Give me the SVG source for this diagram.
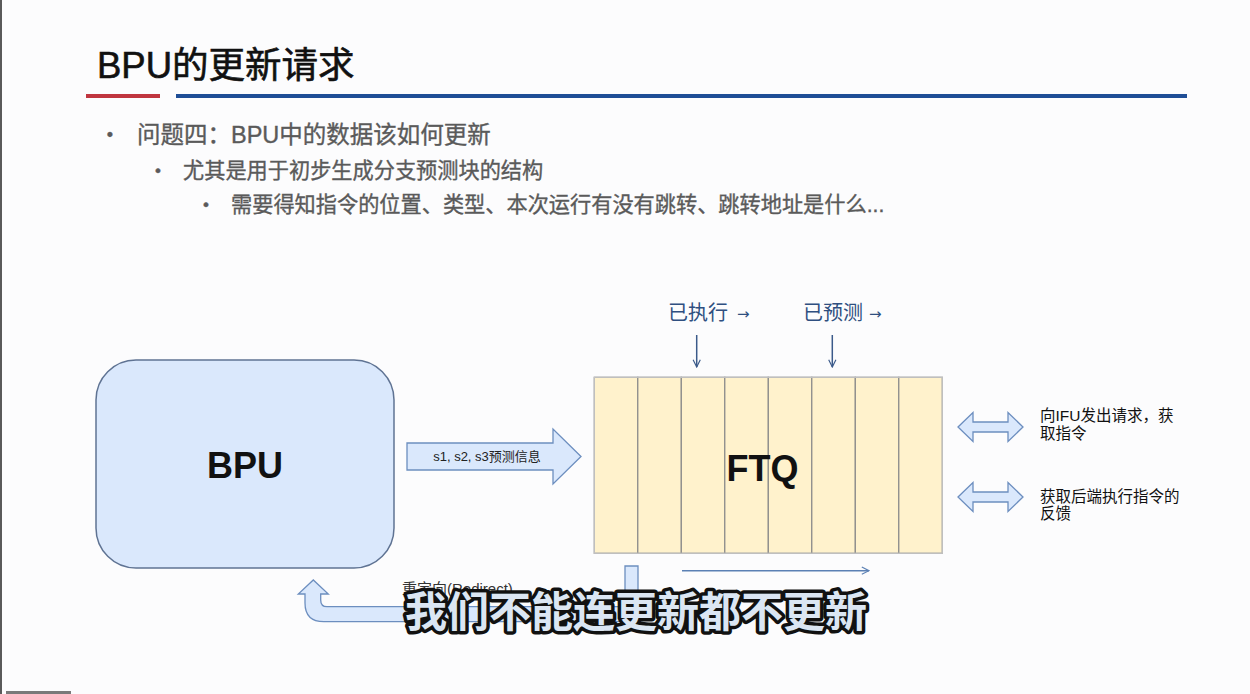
<svg xmlns="http://www.w3.org/2000/svg" width="1250" height="694" viewBox="0 0 1250 694">
  <defs>
    <style>
      text { font-family: "Liberation Sans", "Noto Sans CJK SC", sans-serif; }
      .title { font-size: 36.5px; fill: #111; stroke: #111; stroke-width: 0.6px; }
      .bullet { fill: #5a5a5a; stroke: #5a5a5a; stroke-width: 0.35px; }
      .lvl1 { font-size: 23.5px; }
      .lvl2 { font-size: 21.2px; }
      .node-label { font-size: 36px; font-weight: bold; fill: #111; text-anchor: middle; }
      .blue-fill { fill: #dae8fc; stroke: #6c8ebf; stroke-width: 1.3; }
      .cell { fill: #fff2cc; stroke: #8a8a8a; stroke-width: 1.2; }
      .pointer { font-size: 20px; fill: #2f4f80; }
      .arrow-glyph { font-family: "DejaVu Sans", sans-serif; font-size: 15px; }
      .side { font-size: 15.5px; fill: #111; }
      .thin { fill: none; stroke-width: 1.5; }
      .caption { font-size: 42px; font-weight: bold; fill: #dbe6f3; stroke: #111; stroke-width: 7px; stroke-linejoin: round; paint-order: stroke; }
    </style>
    <marker id="open-head" viewBox="0 0 10 10" refX="9" refY="5" markerWidth="9" markerHeight="9" markerUnits="userSpaceOnUse" orient="auto">
      <path d="M1,1 L9,5 L1,9" fill="none" stroke="context-stroke" stroke-width="1.3"/>
    </marker>
  </defs>

  <!-- slide background and frame -->
  <rect x="0" y="0" width="1250" height="694" fill="#fcfcfd"/>
  <line x1="1" y1="0" x2="1" y2="694" stroke="#5a5a5a" stroke-width="2"/>
  <rect x="6" y="691" width="65" height="3" fill="#7a7a7a"/>

  <!-- title -->
  <g id="title">
    <text class="title" x="97" y="78">BPU的更新请求</text>
    <rect x="86" y="94" width="74" height="4" fill="#c0353f"/>
    <rect x="176" y="94" width="1011" height="4" fill="#1f4e96"/>
  </g>

  <!-- bullet list -->
  <g id="bullets" class="bullet">
    <text x="110" y="141" text-anchor="middle" font-size="18">•</text>
    <text class="lvl1" x="137" y="143">问题四：BPU中的数据该如何更新</text>
    <text x="158" y="176" text-anchor="middle" font-size="17">•</text>
    <text class="lvl2" x="183" y="178">尤其是用于初步生成分支预测块的结构</text>
    <text x="206" y="210" text-anchor="middle" font-size="17">•</text>
    <text class="lvl2" x="231" y="212">需要得知指令的位置、类型、本次运行有没有跳转、跳转地址是什么...</text>
  </g>

  <!-- BPU -->
  <g id="bpu">
    <rect x="96" y="360" width="298" height="208" rx="40" ry="40" fill="#dae8fc" stroke="#5f7393" stroke-width="1.5"/>
    <text class="node-label" x="245" y="478">BPU</text>
  </g>

  <!-- FTQ: eight entries -->
  <g id="ftq">
    <rect class="cell" x="594.3" y="377.3" width="43.5" height="176"/>
    <rect class="cell" x="637.8" y="377.3" width="43.5" height="176"/>
    <rect class="cell" x="681.3" y="377.3" width="43.5" height="176"/>
    <rect class="cell" x="724.8" y="377.3" width="43.5" height="176"/>
    <rect class="cell" x="768.3" y="377.3" width="43.5" height="176"/>
    <rect class="cell" x="811.8" y="377.3" width="43.5" height="176"/>
    <rect class="cell" x="855.3" y="377.3" width="43.5" height="176"/>
    <rect class="cell" x="898.8" y="377.3" width="43.5" height="176"/>
    <rect x="594.3" y="377.3" width="348" height="176" fill="none" stroke="#c4c4c4" stroke-width="1.2"/>
    <text class="node-label" x="762.5" y="481">FTQ</text>
  </g>

  <!-- pointers into the FTQ -->
  <g id="ptr-exec">
    <text class="pointer" x="668" y="320">已执行<tspan class="arrow-glyph" x="737" y="319">→</tspan></text>
  </g>
  <g id="ptr-pred">
    <text class="pointer" x="803" y="320">已预测<tspan class="arrow-glyph" x="869" y="319">→</tspan></text>
  </g>

  <!-- side interfaces -->
  <g id="ifu-req">
    <text class="side" x="1040" y="421">向IFU发出请求，获</text>
    <text class="side" x="1040" y="439">取指令</text>
  </g>
  <g id="backend-fb">
    <text class="side" x="1040" y="502">获取后端执行指令的</text>
    <text class="side" x="1040" y="519">反馈</text>
  </g>

  <!-- connectors -->
  <g id="connectors">
    <!-- prediction info BPU -> FTQ -->
    <path class="blue-fill" d="M407,443 L553,443 L553,429 L581,456.5 L553,484 L553,470 L407,470 Z"/>
    <text x="487" y="461" text-anchor="middle" font-size="13" fill="#222">s1, s2, s3预测信息</text>

    <!-- pointer arrows -->
    <line class="thin" x1="696.7" y1="335" x2="696.7" y2="367" stroke="#3b5a8a" marker-end="url(#open-head)"/>
    <line class="thin" x1="832.3" y1="335" x2="832.3" y2="367" stroke="#3b5a8a" marker-end="url(#open-head)"/>

    <!-- bidirectional interfaces -->
    <path class="blue-fill" d="M958,427 L973,412.5 L973,422 L1008,422 L1008,412.5 L1023,427 L1008,441.5 L1008,432 L973,432 L973,441.5 Z"/>
    <path class="blue-fill" d="M958,497 L973,482.5 L973,492 L1008,492 L1008,482.5 L1023,497 L1008,511.5 L1008,502 L973,502 L973,511.5 Z"/>

    <!-- queue direction -->
    <line class="thin" x1="682" y1="570.7" x2="869" y2="570.7" stroke="#5b80b4" marker-end="url(#open-head)"/>

    <!-- redirect FTQ -> BPU -->
    <path class="blue-fill" d="M625,566 L638,566 L638,621.7 L324,621.7 Q305,621.7 305,603 L305,594 L298.3,594 L313.3,580 L328.3,594 L320.7,594 L320.7,600 Q320.7,606.7 327,606.7 L625,606.7 Z"/>
    <text x="402" y="594" font-size="15" fill="#333">重定向(Redirect)</text>
  </g>

  <!-- caption overlay -->
  <g id="caption">
    <text class="caption" x="405" y="627">我们不能连更新都不更新</text>
  </g>
</svg>
